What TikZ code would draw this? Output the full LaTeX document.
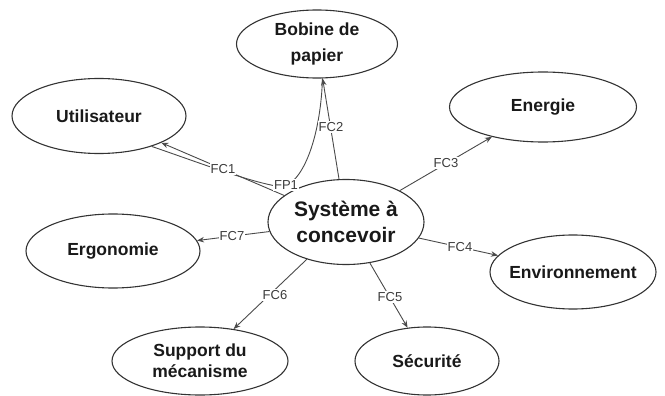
\documentclass[tikz,border=0pt]{standalone}
\usepackage{fontspec}
\setmainfont{Liberation Sans}
\usetikzlibrary{shapes.geometric,arrows.meta}
\definecolor{edge}{HTML}{4A4A4A}
\definecolor{rim}{HTML}{333333}
\definecolor{labtext}{HTML}{3C3C3C}
\begin{document}
\begin{tikzpicture}[x=1pt,y=-1pt,
  bubble/.style={ellipse,draw=rim,line width=1.1pt,inner xsep=-20pt,inner ysep=0pt,
    align=center,text=black!90,font=\fontsize{17.5}{26}\selectfont\bfseries},
  link/.style={draw=edge,line width=0.9pt,-{Stealth[length=7pt,width=5.5pt]}},
  plainlink/.style={draw=edge,line width=0.9pt},
  fclab/.style={fill=white,inner sep=1.2pt,text=labtext,font=\fontsize{13}{15}\selectfont}]
\useasboundingbox (0,0) rectangle (665,396);

% functions around the system
\node[bubble,minimum width=174pt,minimum height=75pt] (util) at (99,116) {Utilisateur};
\node[bubble,minimum width=174pt,minimum height=74pt] (ergo) at (113,251) {Ergonomie};
\node[bubble,minimum width=161pt,minimum height=68pt] (bobine) at (317,44) {Bobine de\\papier};
\node[bubble,minimum width=187pt,minimum height=70pt] (energie) at (543,107) {Energie};
\node[bubble,minimum width=166pt,minimum height=74pt] (env) at (573,272) {Environnement};
\node[bubble,minimum width=156pt,minimum height=85pt,font=\fontsize{21}{26}\selectfont\bfseries] (sys) at (346,222) {Système à\\concevoir};
\node[bubble,minimum width=176pt,minimum height=68pt,font=\fontsize{17.5}{21}\selectfont\bfseries] (support) at (200,361) {Support du\\mécanisme};
\node[bubble,minimum width=144pt,minimum height=68pt] (secu) at (427,361) {Sécurité};

% connectors
\draw[plainlink] (util.-30) .. controls (200,163) and (255,184) .. (283,187)
  .. controls (306,180) and (321,130) .. (bobine.-81);
\draw[link] (sys) -- (util);
\draw[link] (sys) -- (bobine);
\draw[link] (sys) -- (energie);
\draw[link] (sys) -- (env);
\draw[link] (sys) -- (secu);
\draw[link] (sys) -- (support);
\draw[link] (sys) -- (ergo);

% function labels
\node[fclab] (fc1) at (223,169) {FC1};
\node[fclab] (fp1) at (286,185) {FP1};
\node[fclab] (fc2) at (331,127) {FC2};
\node[fclab] (fc3) at (446,163) {FC3};
\node[fclab] (fc4) at (460,247) {FC4};
\node[fclab] (fc5) at (390,297) {FC5};
\node[fclab] (fc6) at (275,295) {FC6};
\node[fclab] (fc7) at (232,236) {FC7};
\end{tikzpicture}
\end{document}
